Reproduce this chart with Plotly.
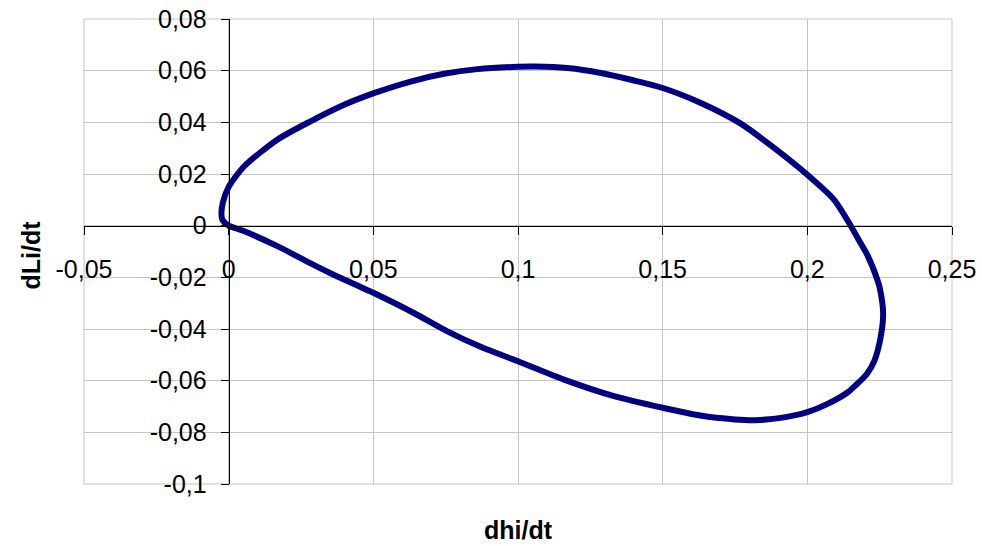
import plotly.graph_objects as go

# Curve (dhi/dt, dLi/dt)
dhi_dt = [0.000, 0.005, 0.017, 0.028, 0.035, 0.050, 0.064, 0.0756, 0.0871, 0.100,
          0.1159, 0.1332, 0.150, 0.163, 0.175, 0.182, 0.192, 0.200,
          0.207, 0.214, 0.2165, 0.2205, 0.2232, 0.2254, 0.2262, 0.2250, 0.2242,
          0.2208, 0.2175, 0.2150, 0.2092, 0.2000, 0.1885, 0.1770, 0.1632, 0.1500,
          0.1401, 0.1286, 0.1171, 0.1060, 0.100, 0.086, 0.0744, 0.0629, 0.0502,
          0.0399, 0.0283, 0.0168, 0.0053, 0.0000, -0.0020, -0.0025, -0.0022, 0.000]
dLi_dt = [0.000, -0.002, -0.008, -0.0144, -0.0183, -0.026, -0.0338, -0.0409, -0.0469, -0.0525,
          -0.0596, -0.0660, -0.0705, -0.0735, -0.0750, -0.0753, -0.0742, -0.0722,
          -0.0690, -0.0645, -0.0620, -0.0575, -0.0522, -0.0428, -0.0338, -0.0240, -0.0209,
          -0.0115, -0.0050, 0.0000, 0.0101, 0.0197, 0.0301, 0.0395, 0.0475, 0.0533,
          0.0562, 0.0591, 0.0610, 0.0616, 0.0615, 0.0606, 0.0588, 0.0558, 0.0513,
          0.0468, 0.0404, 0.0333, 0.0229, 0.0150, 0.0090, 0.0049, 0.0023, 0.000]

x_tickvals = [-0.05, 0, 0.05, 0.1, 0.15, 0.2, 0.25]
x_ticktext = ["-0,05", "0", "0,05", "0,1", "0,15", "0,2", "0,25"]
y_tickvals = [-0.1, -0.08, -0.06, -0.04, -0.02, 0, 0.02, 0.04, 0.06, 0.08]
y_ticktext = ["-0,1", "-0,08", "-0,06", "-0,04", "-0,02", "0", "0,02", "0,04", "0,06", "0,08"]

x_title = "dhi/dt"
y_title = "dLi/dt"

x_range = [-0.05, 0.25]
y_range = [-0.1, 0.08]

FONT = "Liberation Sans, Arial, sans-serif"

fig = go.Figure()
fig.add_trace(go.Scatter(
    x=dhi_dt, y=dLi_dt, mode="lines",
    line=dict(color="#000080", width=6, shape="spline", smoothing=0.7),
    showlegend=False, hoverinfo="skip",
))

xpos = (0 - y_range[0]) / (y_range[1] - y_range[0])
ypos = (0 - x_range[0]) / (x_range[1] - x_range[0])

fig.update_layout(
    width=982, height=546,
    margin=dict(l=84, r=30, t=19, b=62, autoexpand=False),
    paper_bgcolor="white", plot_bgcolor="white",
    font=dict(family=FONT, size=25, color="black"),
    xaxis=dict(
        range=x_range, tickvals=x_tickvals, ticktext=x_ticktext,
        showgrid=True, gridcolor="#c4c4c4", gridwidth=1, zeroline=False,
        showline=True, linecolor="black", linewidth=1,
        ticks="outside", ticklen=8, tickcolor="black",
        anchor="free", position=xpos, ticklabelstandoff=13, automargin=False,
        tickfont=dict(family=FONT, size=25, color="black"),
    ),
    yaxis=dict(
        range=y_range, tickvals=y_tickvals, ticktext=y_ticktext,
        showgrid=True, gridcolor="#c4c4c4", gridwidth=1, zeroline=False,
        showline=True, linecolor="black", linewidth=1,
        ticks="outside", ticklen=8, tickcolor="black",
        anchor="free", position=ypos, ticklabelstandoff=9, automargin=False,
        tickfont=dict(family=FONT, size=25, color="black"),
    ),
    shapes=[dict(type="rect", xref="paper", yref="paper", x0=0, y0=0, x1=1, y1=1,
                 line=dict(color="#c4c4c4", width=1), layer="below")],
    annotations=[
        dict(text="<b>%s</b>" % x_title, xref="paper", yref="paper", x=0.5, y=0,
             xanchor="center", yanchor="middle", yshift=-46, showarrow=False,
             font=dict(family=FONT, size=25, color="black")),
        dict(text="<b>%s</b>" % y_title, xref="paper", yref="paper", x=0, y=0.5,
             xanchor="center", yanchor="middle", xshift=-54, yshift=-4, textangle=-90,
             showarrow=False, font=dict(family=FONT, size=25, color="black")),
    ],
)

fig.write_html("out.html", config={"displayModeBar": False},
               post_script="document.body.style.margin='0';document.body.style.overflow='hidden';")
